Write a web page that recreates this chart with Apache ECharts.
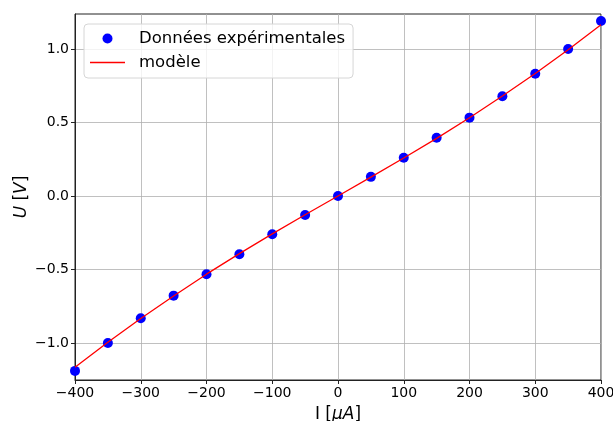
<!DOCTYPE html>
<html>
<head>
<meta charset="utf-8">
<script src="https://cdn.jsdelivr.net/npm/echarts@6/dist/echarts.min.js"></script>
<style>
  html, body { margin: 0; padding: 0; background: #fff; }
  #main { width: 613px; height: 421px; }
</style>
</head>
<body>
<div id="main"></div>
<script>
// courant I en µA
var courant = [-400, -350, -300, -250, -200, -150, -100, -50, 0, 50, 100, 150, 200, 250, 300, 350, 400];
// tension mesurée U en V
var tensionMes = [-1.19, -1.0, -0.832, -0.678, -0.533, -0.396, -0.26, -0.13, 0, 0.13, 0.26, 0.396, 0.533, 0.678, 0.832, 1.0, 1.19];
// modèle
var tensionMod = [-1.165, -0.995, -0.833, -0.68, -0.532, -0.392, -0.258, -0.128, 0, 0.128, 0.258, 0.392, 0.532, 0.68, 0.833, 0.995, 1.165];
var yTicks = [-1.0, -0.5, 0.0, 0.5, 1.0];

var myChart = echarts.init(document.getElementById('main'));

function fmtMinus(v, d) {
    var s = d ? Math.abs(v).toFixed(d) : String(Math.abs(v));
    return (v < 0 ? '\u2212' : '') + s;
}

// icône de légende : trait fin (les petits segments fixent la boîte)
var lineIcon = 'path://M0,0L0.01,0L0.01,0.01L0,0.01ZM0,4.3L35,4.3L35,5.7L0,5.7ZM0,9.99L0.01,9.99L0.01,10L0,10Z';

var option = {
    animation: false,
    backgroundColor: '#fff',
    textStyle: { fontFamily: 'DejaVu Sans' },
    grid: {
        left: 75, right: 12, top: 14, bottom: 41,
        outerBoundsMode: 'none',
        containLabel: false,
        show: true, borderColor: '#222', borderWidth: 1
    },
    legend: {
        left: 84, top: 24,
        orient: 'vertical',
        padding: [5, 8, 6, 6],
        itemWidth: 35, itemHeight: 10,
        itemGap: 5,
        backgroundColor: 'rgba(255,255,255,0.8)',
        borderColor: '#d6d6d6', borderWidth: 1, borderRadius: 4,
        textStyle: { fontSize: 16.5, color: '#000', lineHeight: 19, padding: [0, 0, 0, 9], fontFamily: 'DejaVu Sans' },
        data: [
            { name: 'Données expérimentales', icon: 'circle' },
            { name: 'modèle', icon: lineIcon }
        ]
    },
    xAxis: {
        type: 'value',
        min: -400, max: 400, interval: 100,
        name: 'I [{i|μA}]',
        nameLocation: 'middle',
        nameMoveOverlap: false,
        nameGap: 35,
        nameTextStyle: { fontSize: 17, color: '#000', verticalAlign: 'middle', rich: { i: { fontStyle: 'italic', fontSize: 17 } } },
        axisLine: { show: true, onZero: false, lineStyle: { color: '#222' } },
        axisTick: { show: true, length: 4, lineStyle: { color: '#222' } },
        axisLabel: { fontSize: 14, color: '#000', margin: 6, formatter: function (v) { return fmtMinus(v, 0); } },
        splitLine: { show: true, lineStyle: { color: '#b0b0b0', width: 0.8 } }
    },
    yAxis: {
        type: 'value',
        min: -1.252, max: 1.238,
        name: '{i|U} [{i|V}]',
        nameLocation: 'middle',
        nameMoveOverlap: false,
        nameGap: 53,
        nameTextStyle: { fontSize: 17, color: '#000', verticalAlign: 'middle', rich: { i: { fontStyle: 'italic', fontSize: 17 } } },
        axisLine: { show: true, onZero: false, lineStyle: { color: '#222' } },
        axisTick: { show: true, length: 4, customValues: yTicks, lineStyle: { color: '#222' } },
        axisLabel: { fontSize: 14, color: '#000', margin: 6, customValues: yTicks, formatter: function (v) { return fmtMinus(v, 1); } },
        splitLine: { show: true, lineStyle: { color: '#b0b0b0', width: 0.8 } }
    },
    series: [
        {
            name: 'Données expérimentales',
            type: 'scatter',
            symbol: 'circle',
            symbolSize: 10,
            clip: false,
            itemStyle: { color: '#0000ff', opacity: 1 },
            data: courant.map(function (x, i) { return [x, tensionMes[i]]; }),
            z: 2
        },
        {
            name: 'modèle',
            type: 'line',
            symbol: 'none',
            showSymbol: false,
            lineStyle: { color: '#ff0000', width: 1.3 },
            itemStyle: { color: '#ff0000' },
            data: courant.map(function (x, i) { return [x, tensionMod[i]]; }),
            z: 3
        }
    ]
};
myChart.setOption(option);
</script>
</body>
</html>
